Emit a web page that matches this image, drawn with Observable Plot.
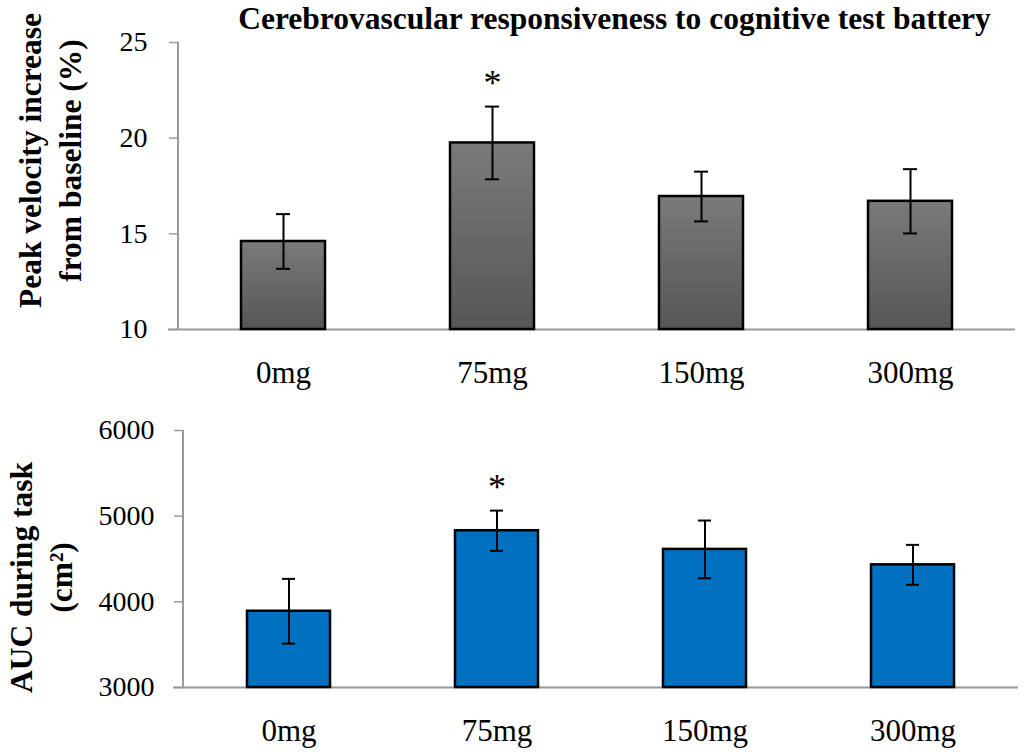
<!DOCTYPE html>
<html>
<head>
<meta charset="utf-8">
<script src="https://cdn.jsdelivr.net/npm/d3@7"></script>
<script src="https://cdn.jsdelivr.net/npm/@observablehq/plot@0.6"></script>
<style>
  html, body { margin: 0; padding: 0; background: #fff; }
  #wrap { position: relative; width: 1024px; height: 752px; font-family: "Liberation Serif", serif; }
  #topPanel, #bottomPanel { position: absolute; left: 0; }
  #topPanel { top: 0; }
  #bottomPanel { top: 400px; }
</style>
</head>
<body>
<div id="wrap"><div id="topPanel"></div><div id="bottomPanel"></div></div>
<script>
const doses = ["0mg", "75mg", "150mg", "300mg"];
const velocityMean = [14.6, 19.75, 16.95, 16.7];
const velocitySem = [1.43, 1.9, 1.3, 1.68];
const aucMean = [3890, 4830, 4612, 4432];
const aucSem = [378, 235, 337, 233];
const velocityTicks = [10, 15, 20, 25];
const aucTicks = [3000, 4000, 5000, 6000];
const significant = ["75mg"];
const chartTitle = "Cerebrovascular responsiveness to cognitive test battery";
const velocityLabel = "Peak velocity increase\nfrom baseline (%)";
const aucLabel = "AUC during task\n(cm²)";

function table(means, sems) {
  return doses.map((dose, i) => ({dose, mean: means[i], lo: means[i] - sems[i], hi: means[i] + sems[i]}));
}

function panel({data, ticks, fill, label, labelDx, labelDy, marginLeft, marginRight, marginTop, marginBottom, height, tickPadding, title}) {
  const base = ticks[0];
  const marks = [
    Plot.ruleY([base], {stroke: "#9a9a9a", strokeWidth: 2, insetLeft: -10}),
    Plot.axisY(ticks, {tickSize: 9, tickPadding, fontSize: 28, stroke: "#9a9a9a", fill: "black", strokeWidth: 1.5, tickFormat: d3.format("d")}),
    Plot.axisX({tickSize: 0, tickPadding: 31, fontSize: 31, fill: "black"}),
    Plot.barY(data, {x: "dose", y1: base, y2: "mean", fill, stroke: "black", strokeWidth: 2.5}),
    Plot.ruleX(data, {x: "dose", y1: "lo", y2: "hi", stroke: "black", strokeWidth: 2}),
    Plot.tickY(data, {x: "dose", y: "hi", stroke: "black", strokeWidth: 2, inset: 35}),
    Plot.tickY(data, {x: "dose", y: "lo", stroke: "black", strokeWidth: 2, inset: 35}),
    Plot.text(data.filter(d => significant.includes(d.dose)), {x: "dose", y: "hi", text: () => "*", dy: -23, fontSize: 36}),
    Plot.text([label], {text: d => d, frameAnchor: "left", rotate: -90, dx: labelDx, dy: labelDy, textAnchor: "middle", lineAnchor: "middle", fontWeight: "bold", fontSize: 31.5, lineHeight: 1.25})
  ];
  if (title) {
    marks.push(Plot.text([title], {text: d => d, frameAnchor: "top", dx: 17.5, dy: -24, textAnchor: "middle", lineAnchor: "middle", fontWeight: "bold", fontSize: 31.5}));
  }
  return Plot.plot({
    width: 1024,
    height,
    marginLeft, marginRight, marginTop, marginBottom,
    style: {fontFamily: "'Liberation Serif', serif", background: "white", color: "black", overflow: "visible"},
    x: {domain: doses, paddingInner: 0.6, paddingOuter: 0.3, label: null},
    y: {domain: [ticks[0], ticks[ticks.length - 1]], label: null},
    marks
  });
}

const topSvg = panel({
  data: table(velocityMean, velocitySem), ticks: velocityTicks, fill: "url(#gradTop)",
  label: velocityLabel, labelDx: -130, labelDy: -25.5,
  marginLeft: 178, marginRight: 9, marginTop: 42, marginBottom: 71, height: 400, tickPadding: 22, title: chartTitle
});
const bottomSvg = panel({
  data: table(aucMean, aucSem), ticks: aucTicks, fill: "#0070c0",
  label: aucLabel, labelDx: -144, labelDy: 18.5,
  marginLeft: 183, marginRight: 6, marginTop: 30, marginBottom: 65, height: 352, tickPadding: 20
});

// gradient definition for the grey bars
const defs = d3.select(topSvg).insert("defs", ":first-child");
const grad = defs.append("linearGradient").attr("id", "gradTop").attr("x1", 0).attr("y1", 0).attr("x2", 0).attr("y2", 1);
grad.append("stop").attr("offset", "0%").attr("stop-color", "#7a7a7a");
grad.append("stop").attr("offset", "100%").attr("stop-color", "#565656");

// y axis lines
function yLine(svg, x, y1, y2) {
  d3.select(svg).append("line").attr("x1", x).attr("x2", x).attr("y1", y1).attr("y2", y2)
    .attr("stroke", "#9a9a9a").attr("stroke-width", 2);
}
yLine(topSvg, 178, 42, 329);
yLine(bottomSvg, 183, 30, 287);

document.getElementById("topPanel").appendChild(topSvg);
document.getElementById("bottomPanel").appendChild(bottomSvg);
</script>
</body>
</html>
